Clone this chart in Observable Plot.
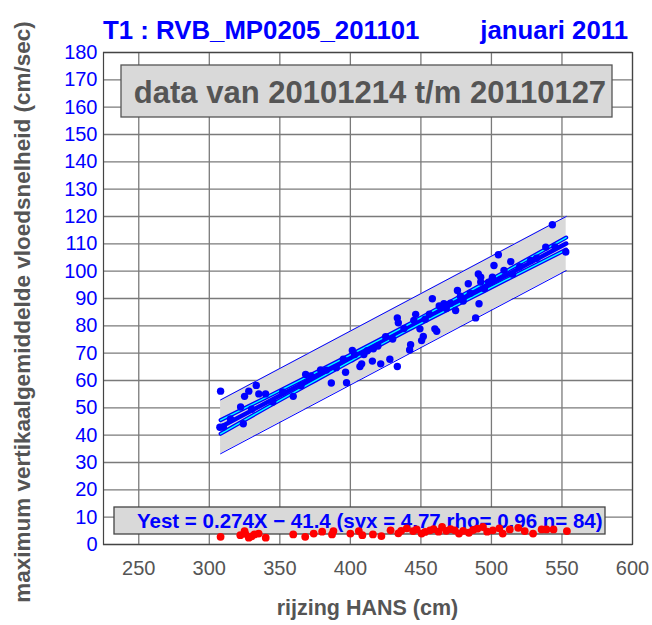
<!DOCTYPE html>
<html>
<head>
<meta charset="utf-8">
<script src="https://cdn.jsdelivr.net/npm/d3@7"></script>
<script src="https://cdn.jsdelivr.net/npm/@observablehq/plot@0.6"></script>
<style>
  html, body { margin: 0; padding: 0; background: #fff; }
  #wrap { position: relative; width: 652px; height: 625px; overflow: hidden; font-family: "Liberation Sans", Arial, sans-serif; }
  #wrap > svg { position: absolute; left: 0; top: 0; }
</style>
</head>
<body>
<div id="wrap"></div>
<script>
// ---- texts ----
const titleLeft = "T1 : RVB_MP0205_201101";
const titleRight = "januari 2011";
const periodText = "data van 20101214 t/m 20110127";
const eqText = "Yest = 0.274X \u2212 41.4 (syx = 4.77 rho= 0.96 n= 84)";
const xLabel = "rijzing HANS (cm)";
const yLabel = "maximum vertikaalgemiddelde vloedsnelheid (cm/sec)";

// ---- ticks ----
const xTicks = [250, 300, 350, 400, 450, 500, 550, 600];
const yTicks = [0, 10, 20, 30, 40, 50, 60, 70, 80, 90, 100, 110, 120, 130, 140, 150, 160, 170, 180];

// ---- measurements (blue): rijzing HANS (cm) vs max. vloedsnelheid (cm/s) ----
const hans = [307.5, 308.0, 310, 315, 322.2, 324.1, 325.0, 328.0, 330, 333.3,
  335.1, 339.9, 345, 352, 359.5, 365, 368.3, 372, 378.9, 383,
  386.5, 390, 395, 396.6, 397.3, 401.4, 403, 406.8, 408.0, 409.6,
  412, 415.6, 416.3, 419.5, 421.5, 425, 428.0, 430, 433.3, 433.3,
  434.0, 438, 442.0, 442.7, 445, 446.3, 449.3, 450.5, 451.7, 453,
  456, 458.1, 459.9, 461.2, 463, 466.3, 468, 471, 474.6, 475.9,
  478, 480, 483.6, 485, 488.8, 490.7, 491.2, 492.4, 492.4, 495,
  498, 500.7, 501.8, 504.9, 508.9, 513.7, 515, 520, 527.8, 532,
  538.5, 543.2, 545, 552.7];
const vmax = [42.9, 56.1, 43.0, 45.9, 50.3, 44.2, 54.2, 56.1, 49.5, 58.2,
  55.1, 55.1, 52.1, 55.8, 54.2, 58.1, 62.2, 61.7, 63.9, 63.8,
  59.1, 64.7, 67.8, 63.0, 59.2, 71.0, 69.5, 65.1, 66.1, 69.5,
  70.9, 67.1, 71.6, 72.6, 66.1, 76.0, 67.8, 75.2, 65.1, 82.9,
  81.1, 79.0, 71.2, 73.1, 82.0, 84.2, 78.9, 74.6, 76.1, 82.4,
  84.3, 89.9, 78.9, 78.0, 87.3, 88.1, 86.3, 88.3, 85.6, 92.9,
  90.8, 89.1, 95.4, 91.9, 82.9, 99.0, 88.1, 97.8, 96.0, 93.6,
  96.0, 97.8, 102.1, 106.0, 100.3, 103.5, 98.9, 101.6, 103.9, 104.7,
  108.8, 117.0, 108.9, 107.0];

// ---- red series near the bottom ----
const redX = [308, 322, 325, 325.5, 328, 330, 332, 335, 340, 359.5, 368, 374, 380, 387, 388,
  400, 406, 408.5, 416, 422, 428.5, 434, 436, 440, 444.5, 447, 450.5, 453, 456.5, 459,
  462.5, 465, 468, 471, 474, 477, 480, 484, 487, 490, 494, 497, 501, 505.6, 508,
  513, 519, 523.6, 529.5, 535.6, 539, 544, 553.5];
const redY = [2.8, 3.4, 4.9, 3.9, 2.5, 3.0, 3.7, 4.0, 2.5, 3.7, 2.8, 4.0, 4.7, 3.7, 4.9,
  4.0, 4.9, 3.4, 3.7, 3.1, 5.2, 4.1, 5.0, 5.9, 4.9, 5.5, 4.0, 4.6, 5.2, 5.6,
  4.7, 6.4, 5.0, 5.6, 5.2, 4.0, 5.0, 4.3, 5.3, 5.8, 6.4, 4.7, 5.2, 5.9, 4.0,
  5.5, 6.1, 4.9, 4.0, 5.5, 5.5, 5.5, 4.9];

// ---- regression line, confidence lines and prediction band ----
const fitX = [308, 553];
const fitY = [43.0, 110.1];
const ciX = [308, 340, 370, 400, 440, 480, 510, 553];
const ciUp = [45.5, 53.7, 61.5, 69.4, 80.2, 91.4, 99.9, 112.3];
const ciLo = [40.5, 49.9, 58.5, 67.0, 78.2, 88.8, 96.7, 107.9];
const bandX = [308, 553];
const bandUp = [52.9, 120.0];
const bandLo = [33.2, 100.2];

const pts = hans.map((x, i) => ({x, y: vmax[i]}));
const reds = redX.map((x, i) => ({x, y: redY[i]}));
const fit = fitX.map((x, i) => ({x, y: fitY[i]}));
const ci = ciX.map((x, i) => ({x, hi: ciUp[i], lo: ciLo[i]}));
const band = bandX.map((x, i) => ({x, hi: bandUp[i], lo: bandLo[i]}));

const W = 652, H = 625, ML = 103, MR = 20, MT = 52, MB = 81;
const BLUE = "#0000ff", CYAN = "#00ffff", GRAYTXT = "#555555";
const FONT = "'Liberation Sans', Arial, sans-serif";

// annotation boxes drawn inside the plot (below the red dots)
const periodBox = () => {
  const g = d3.create("svg:g");
  g.append("rect").attr("x", ML + 18).attr("y", MT + 13).attr("width", 491).attr("height", 52)
    .attr("fill", "#d9d9d9").attr("stroke", "#555").attr("stroke-width", 1.3);
  g.append("text").attr("x", ML + 267).attr("y", MT + 51).attr("text-anchor", "middle")
    .attr("font-family", FONT).attr("font-weight", "bold").attr("font-size", 31)
    .attr("fill", GRAYTXT).text(periodText);
  return g.node();
};
const eqBox = () => {
  const g = d3.create("svg:g");
  g.append("rect").attr("x", ML + 11).attr("y", H - MB - 37).attr("width", 491).attr("height", 27)
    .attr("fill", "#d9d9d9").attr("stroke", "#444").attr("stroke-width", 1.3);
  g.append("text").attr("x", ML + 34).attr("y", H - MB - 16).attr("text-anchor", "start")
    .attr("font-family", FONT).attr("font-weight", "bold").attr("font-size", 20.5)
    .attr("fill", BLUE).text(eqText);
  return g.node();
};

const chart = Plot.plot({
  width: W, height: H,
  marginLeft: ML, marginRight: MR, marginTop: MT, marginBottom: MB,
  style: {fontFamily: FONT, background: "transparent", overflow: "visible"},
  x: {domain: [225, 600], ticks: xTicks},
  y: {domain: [0, 180], ticks: yTicks},
  marks: [
    Plot.gridX(xTicks, {stroke: "#7a7a7a", strokeOpacity: 1, strokeWidth: 1.3}),
    Plot.gridY(yTicks, {stroke: "#7a7a7a", strokeOpacity: 1, strokeWidth: 1.3}),
    periodBox,
    Plot.areaY(band, {x: "x", y1: "lo", y2: "hi", fill: "#d9d9d9"}),
    Plot.line(band, {x: "x", y: "hi", stroke: BLUE, strokeWidth: 1}),
    Plot.line(band, {x: "x", y: "lo", stroke: BLUE, strokeWidth: 1}),
    Plot.line(ci, {x: "x", y: "hi", stroke: BLUE, strokeWidth: 4, curve: "natural"}),
    Plot.line(ci, {x: "x", y: "lo", stroke: BLUE, strokeWidth: 4, curve: "natural"}),
    Plot.line(fit, {x: "x", y: "y", stroke: BLUE, strokeWidth: 4.5}),
    Plot.line(ci, {x: "x", y: "hi", stroke: CYAN, strokeWidth: 1.4, curve: "natural"}),
    Plot.line(ci, {x: "x", y: "lo", stroke: CYAN, strokeWidth: 1.4, curve: "natural"}),
    Plot.dot(pts, {x: "x", y: "y", r: 3.7, fill: BLUE, stroke: "none"}),
    eqBox,
    Plot.dot(reds, {x: "x", y: "y", r: 3.9, fill: "#ff0000", stroke: "none"}),
    Plot.frame({stroke: "#444", strokeWidth: 1.2}),
    Plot.axisX(xTicks, {tickSize: 0, tickPadding: 16, fontSize: 20, fill: "#555", color: "#555", label: null}),
    Plot.axisY(yTicks, {tickSize: 0, tickPadding: 6, fontSize: 20, fill: BLUE, color: BLUE, label: null})
  ]
});

const wrap = document.getElementById("wrap");
wrap.appendChild(chart);

// overlay titles and axis titles
const ov = d3.select(wrap).append("svg").attr("width", W).attr("height", H)
  .style("position", "absolute").style("left", 0).style("top", 0)
  .attr("font-family", FONT).attr("font-weight", "bold");
ov.append("text").attr("x", ML).attr("y", 39).attr("font-size", 25.8).attr("fill", BLUE).text(titleLeft);
ov.append("text").attr("x", W - 24).attr("y", 39).attr("text-anchor", "end").attr("font-size", 25.8).attr("fill", BLUE).text(titleRight);
ov.append("text").attr("x", ML + (W - ML - MR) / 2).attr("y", 615).attr("text-anchor", "middle")
  .attr("font-size", 21.5).attr("fill", GRAYTXT).text(xLabel);
ov.append("text").attr("transform", "translate(30,312) rotate(-90)").attr("text-anchor", "middle")
  .attr("font-size", 22.5).attr("fill", GRAYTXT).text(yLabel);
</script>
</body>
</html>
